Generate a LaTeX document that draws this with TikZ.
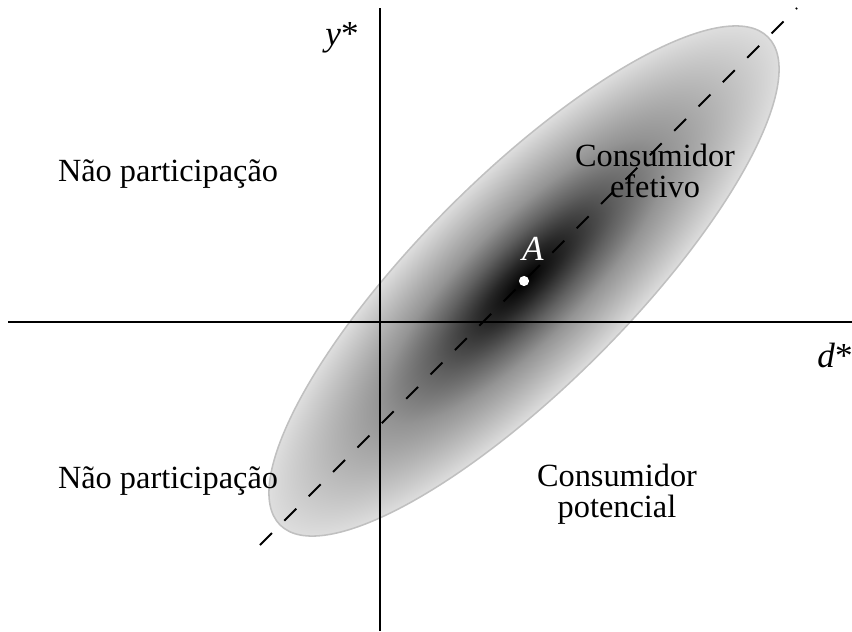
\documentclass[tikz,border=0pt]{standalone}
\usepackage{fontspec}
\setmainfont{Liberation Serif}
\usepackage{tikz}
\usetikzlibrary{positioning,calc}
\definecolor{rimgray}{RGB}{192,192,192}
\pgfdeclareradialshading{density}{\pgfpoint{0bp}{0bp}}{%
  color(0bp)=(black); color(4bp)=(black!85); color(9bp)=(black!62);
  color(14bp)=(black!42); color(25bp)=(black!13); color(50bp)=(black!13)}

\begin{document}
\begin{tikzpicture}[x=0.025cm, y=-0.025cm,
    axis/.style={line width=1.6pt, black},
    diag/.style={line width=1.3pt, dash pattern=on 12pt off 12.5pt},
    lbl/.style={font=\fontsize{23}{21.5}\selectfont, align=center, inner sep=0pt, anchor=base},
    var/.style={font=\fontsize{25}{25}\selectfont, inner sep=0pt, anchor=base}]
  \useasboundingbox (0,0) rectangle (852,631);
  \coordinate (A) at (524,281);
  % density ellipse
  \begin{scope}[transform canvas={shift={(A)}, rotate=45}]
    \shadedraw[shading=density, draw=rimgray, line width=1.1pt] (0,0) ellipse [x radius=345, y radius=105];
  \end{scope}
  % axes
  \coordinate (ytop) at (380,8);
  \coordinate (ybot) at (380,631);
  \coordinate (xleft) at (8,322);
  \coordinate (xright) at (852,322);
  \draw[axis] (ybot) -- (ytop);
  \draw[axis] (xleft) -- (xright);
  % diagonal
  \coordinate (dlo) at (260,545);
  \coordinate (dhi) at (797,8);
  \draw[diag] (dlo) -- (dhi);
  % point A
  \fill[white] (A) circle (3.6pt);
  \node[var, white] (lblA) at (533,260) {\textit{A}};
  \node[var] (lbly) at (342,45) {\textit{y}*};
  \node[var] (lbld) at (835,367) {\textit{d}*};
  % regions
  \node[lbl] (nonpartUp) at (168,181) {Não participação};
  \node[lbl] (nonpartDn) at (168,488) {Não participação};
  \node[lbl] (effective) at (655,197) {Consumidor\\efetivo};
  \node[lbl] (potential) at (617,517) {Consumidor\\potencial};
\end{tikzpicture}
\end{document}
